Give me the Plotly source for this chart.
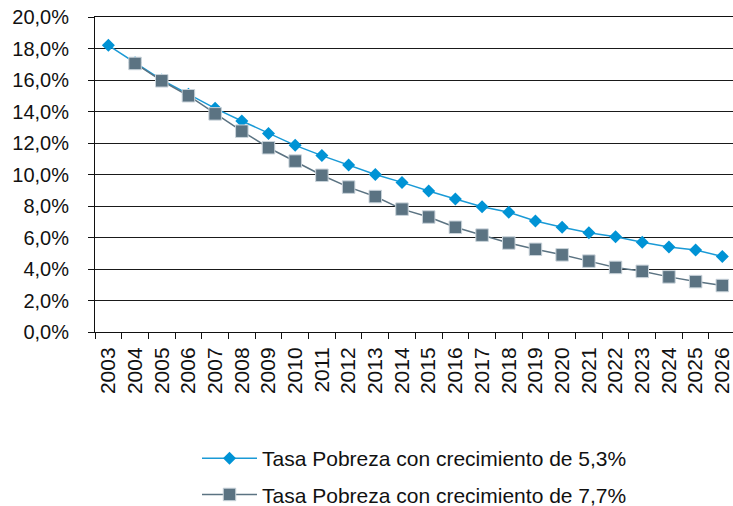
import plotly.graph_objects as go

years = [str(y) for y in range(2003, 2027)]
tasa_53 = [18.2, 17.1, 16.0, 15.1, 14.2, 13.4, 12.6, 11.85, 11.2, 10.6, 10.0, 9.5,
           8.95, 8.45, 7.95, 7.6, 7.05, 6.65, 6.3, 6.05, 5.7, 5.4, 5.2, 4.8]
tasa_77 = [None, 17.05, 15.95, 15.0, 13.85, 12.75, 11.7, 10.85, 9.95, 9.2, 8.6, 7.8,
           7.3, 6.65, 6.15, 5.65, 5.25, 4.9, 4.5, 4.1, 3.85, 3.5, 3.2, 2.95]
name_53 = "Tasa Pobreza con crecimiento de 5,3%"
name_77 = "Tasa Pobreza con crecimiento de 7,7%"
y_ticks = [0, 2, 4, 6, 8, 10, 12, 14, 16, 18, 20]
y_tick_text = ["0,0%", "2,0%", "4,0%", "6,0%", "8,0%", "10,0%", "12,0%",
               "14,0%", "16,0%", "18,0%", "20,0%"]

FONT = "Liberation Sans, Arial, sans-serif"

W, H = 733, 506
L, T, PW, PH = 95, 17, 638, 315

fig = go.Figure()
fig.add_trace(go.Scatter(
    x=years, y=tasa_53, name=name_53, mode="lines+markers",
    line=dict(color="#1a9ad6", width=1.5),
    marker=dict(symbol="diamond", size=10, color="#0093d5",
                line=dict(width=0)),
    legendgroup="a", legendrank=1,
))
fig.add_trace(go.Scatter(
    x=years, y=tasa_77, name=name_77, mode="lines+markers",
    line=dict(color="#5b7382", width=1.5),
    marker=dict(symbol="square", size=12.5, color="#5b7382",
                line=dict(color="#c9d3da", width=1)),
    legendgroup="b", legendrank=2,
))

fig.update_layout(
    width=W, height=H,
    margin=dict(l=L, r=W - L - PW, t=T, b=H - T - PH, autoexpand=False),
    paper_bgcolor="white", plot_bgcolor="white",
    font=dict(family=FONT, size=20, color="#111"),
    showlegend=True,
    legend=dict(
        x=(197 - 95) / PW, xanchor="left",
        y=-(430 - 324) / PH, yanchor="top",
        traceorder="grouped", tracegroupgap=6,
        font=dict(size=21, family=FONT, color="#111"),
        itemwidth=55,
    ),
)
fig.update_xaxes(
    type="category", range=[-0.5, 23.4], automargin=False,
    tickangle=-90, ticks="outside", tickson="boundaries", ticklen=6,
    tickcolor="#111", showline=True, mirror=True, linecolor="#111", linewidth=1,
    showgrid=False, tickfont=dict(size=21), ticklabelstandoff=6,
    ticklabeloverflow="allow",
)
fig.update_yaxes(
    range=[0, 20], tickvals=y_ticks, ticktext=y_tick_text, automargin=False,
    ticks="outside", ticklen=6, tickcolor="#111",
    showline=True, linecolor="#111", linewidth=1,
    showgrid=True, gridcolor="#1a1a1a", gridwidth=1,
    zeroline=False, tickfont=dict(size=20), ticklabelstandoff=15,
    ticklabeloverflow="allow",
)

fig.write_html("out.html", config={"displayModeBar": False},
               post_script="document.body.style.margin='0';")
